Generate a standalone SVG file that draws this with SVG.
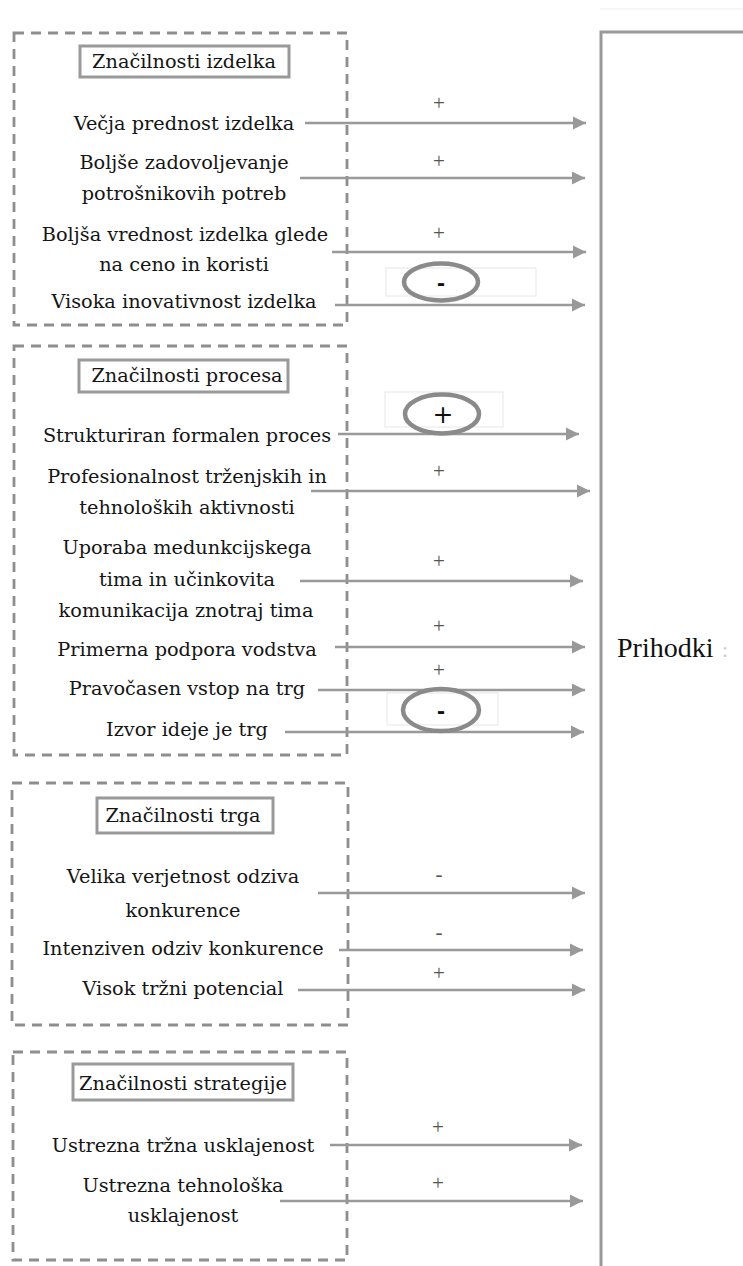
<svg xmlns="http://www.w3.org/2000/svg" width="743" height="1266" viewBox="0 0 743 1266">
<style>
.bg{fill:#ffffff}
.grp{fill:none;stroke:#8e8e8e;stroke-width:2.8;stroke-dasharray:10 7}
.ttl{fill:#fff;stroke:#999;stroke-width:3}
.lbl{font-family:"DejaVu Serif","Liberation Serif",serif;font-size:19.3px;fill:#151515;text-anchor:middle}
.arr{stroke:#999;stroke-width:2.6;fill:none;marker-end:url(#ah)}
.sgn{font-family:"Liberation Serif",serif;font-size:21px;fill:#555;text-anchor:middle}
.oval{fill:none;stroke:#8a8a8a;stroke-width:4.5}
.frect{fill:none;stroke:#e6e6e6;stroke-width:1}
.osg{font-family:"Liberation Sans",sans-serif;font-weight:bold;fill:#111;text-anchor:middle}
.osp{font-family:"DejaVu Sans",sans-serif;font-weight:normal;fill:#111;text-anchor:middle}
.target{fill:#fff;stroke:#999;stroke-width:3}
.tgt{font-family:"Liberation Serif",serif;font-size:28px;fill:#111}
</style>
<defs>
<marker id="ah" markerUnits="userSpaceOnUse" markerWidth="14" markerHeight="14" refX="13" refY="7" orient="auto">
<path d="M0,0.5 L13,7 L0,13.5 z" fill="#999"/>
</marker>
</defs>
<rect class="bg" x="0" y="0" width="743" height="1266"/>

<g id="target">
<line x1="600" y1="9" x2="743" y2="9" stroke="#eeeeee" stroke-width="1"/>
<rect class="target" x="601" y="32" width="170" height="1260"/>
<text class="tgt" x="617" y="657">Prihodki</text>
<text x="722" y="657" font-family="Liberation Serif,serif" font-size="22" fill="#cccccc">:</text>
</g>

<g id="group-izdelek">
<rect class="grp" x="14" y="33" width="333" height="292"/>
<g id="title-izdelek"><rect class="ttl" x="80" y="46" width="209" height="31"/><text class="lbl" x="184" y="68">Značilnosti izdelka</text></g>
<g id="n-vecja"><text class="lbl" x="184" y="130">Večja prednost izdelka</text></g>
<g id="n-boljse"><text class="lbl" x="184" y="169">Boljše zadovoljevanje</text><text class="lbl" x="184" y="200">potrošnikovih potreb</text></g>
<g id="n-boljsa"><text class="lbl" x="185" y="241">Boljša vrednost izdelka glede</text><text class="lbl" x="184" y="271">na ceno in koristi</text></g>
<g id="n-visoka"><text class="lbl" x="184" y="308">Visoka inovativnost izdelka</text></g>
</g>

<g id="group-proces">
<rect class="grp" x="14" y="346" width="333" height="409"/>
<g id="title-proces"><rect class="ttl" x="79" y="360" width="209" height="32"/><text class="lbl" x="187" y="382">Značilnosti procesa</text></g>
<g id="n-strukt"><text class="lbl" x="187" y="442">Strukturiran formalen proces</text></g>
<g id="n-prof"><text class="lbl" x="187" y="483">Profesionalnost trženjskih in</text><text class="lbl" x="187" y="514">tehnoloških aktivnosti</text></g>
<g id="n-uporaba"><text class="lbl" x="187" y="554">Uporaba medunkcijskega</text><text class="lbl" x="187" y="586">tima in učinkovita</text><text class="lbl" x="186" y="617">komunikacija znotraj tima</text></g>
<g id="n-primerna"><text class="lbl" x="187" y="656">Primerna podpora vodstva</text></g>
<g id="n-pravocasen"><text class="lbl" x="187" y="695">Pravočasen vstop na trg</text></g>
<g id="n-izvor"><text class="lbl" x="187" y="736">Izvor ideje je trg</text></g>
</g>

<g id="group-trg">
<rect class="grp" x="12" y="783" width="336" height="242"/>
<g id="title-trg"><rect class="ttl" x="97" y="798" width="176" height="35"/><text class="lbl" x="183" y="822">Značilnosti trga</text></g>
<g id="n-velika"><text class="lbl" x="183" y="883">Velika verjetnost odziva</text><text class="lbl" x="183" y="917">konkurence</text></g>
<g id="n-intenziven"><text class="lbl" x="183" y="955">Intenziven odziv konkurence</text></g>
<g id="n-visok"><text class="lbl" x="183" y="995">Visok tržni potencial</text></g>
</g>

<g id="group-strategija">
<rect class="grp" x="13" y="1052" width="334" height="208"/>
<g id="title-strategija"><rect class="ttl" x="73" y="1064" width="220" height="36"/><text class="lbl" x="183" y="1090">Značilnosti strategije</text></g>
<g id="n-trzna"><text class="lbl" x="183" y="1152">Ustrezna tržna usklajenost</text></g>
<g id="n-tehno"><text class="lbl" x="183" y="1192">Ustrezna tehnološka</text><text class="lbl" x="183" y="1222">usklajenost</text></g>
</g>

<g id="connectors">
<line class="arr" x1="305" y1="123" x2="586" y2="123"/>
<line class="arr" x1="300" y1="178" x2="585" y2="178"/>
<line class="arr" x1="332" y1="252" x2="586" y2="252"/>
<line class="arr" x1="335" y1="305" x2="585" y2="305"/>
<line class="arr" x1="338" y1="434" x2="579" y2="434"/>
<line class="arr" x1="311" y1="491" x2="590" y2="491"/>
<line class="arr" x1="300" y1="581" x2="583" y2="581"/>
<line class="arr" x1="335" y1="647" x2="585" y2="647"/>
<line class="arr" x1="318" y1="690" x2="585" y2="690"/>
<line class="arr" x1="285" y1="732" x2="584" y2="732"/>
<line class="arr" x1="318" y1="893" x2="585" y2="893"/>
<line class="arr" x1="339" y1="950" x2="583" y2="950"/>
<line class="arr" x1="298" y1="990" x2="585" y2="990"/>
<line class="arr" x1="330" y1="1145" x2="582" y2="1145"/>
<line class="arr" x1="280" y1="1201" x2="583" y2="1201"/>

<text class="sgn" x="439" y="110">+</text>
<text class="sgn" x="439" y="168">+</text>
<text class="sgn" x="439" y="240">+</text>
<text class="sgn" x="439" y="478">+</text>
<text class="sgn" x="439" y="568">+</text>
<text class="sgn" x="439" y="633">+</text>
<text class="sgn" x="439" y="677">+</text>
<text class="sgn" x="439" y="881">-</text>
<text class="sgn" x="439" y="939">-</text>
<text class="sgn" x="439" y="980">+</text>
<text class="sgn" x="438" y="1134">+</text>
<text class="sgn" x="438" y="1190">+</text>

<rect class="frect" x="386" y="268" width="150" height="28"/>
<ellipse class="oval" cx="441" cy="282" rx="37" ry="18.5"/>
<text class="osg" x="441" y="291" font-size="24">-</text>

<rect class="frect" x="385" y="392" width="118" height="35"/>
<ellipse class="oval" cx="442" cy="414" rx="37" ry="19.5"/>
<text class="osp" x="443" y="423" font-size="25">+</text>

<rect class="frect" x="387" y="693" width="111" height="32"/>
<ellipse class="oval" cx="441" cy="710" rx="38" ry="21"/>
<text class="osg" x="441" y="719" font-size="24">-</text>
</g>
</svg>
